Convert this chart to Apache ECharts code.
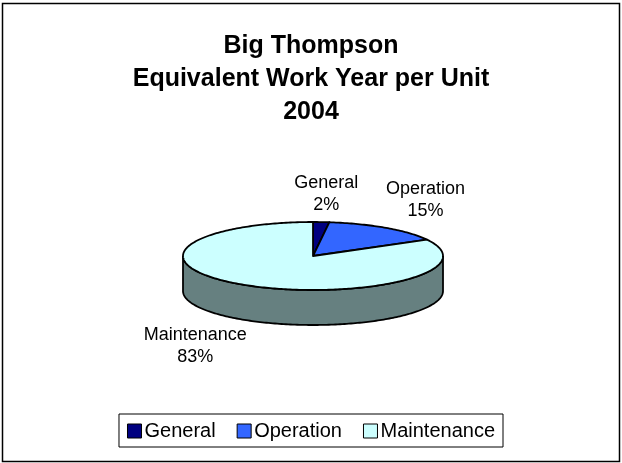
<!DOCTYPE html>
<html>
<head>
<meta charset="utf-8">
<script src="https://cdn.jsdelivr.net/npm/echarts@6/dist/echarts.min.js"></script>
<style>
    html, body { margin: 0; padding: 0; background: #fff; }
    #chart { width: 622px; height: 463px; }
</style>
</head>
<body>
<div id="chart"></div>
<script>
// data
var categories = ['General', 'Operation', 'Maintenance'];
var shares = [2, 15, 83];
var topColors = ['#000080', '#3366FF', '#CCFFFF'];
var sideColors = ['#000040', '#1A3380', '#668080'];

var LABEL_FONT = '18px "Liberation Sans", Arial, sans-serif';

var measureCtx = document.createElement('canvas').getContext('2d');
function textHalfWidth(lines){
    measureCtx.font = LABEL_FONT;
    var w = 0;
    lines.forEach(function(l){ w = Math.max(w, measureCtx.measureText(l).width); });
    return w / 2;
}

var total = shares.reduce(function(a, b){ return a + b; }, 0);

// pie "3d" geometry (layout only)
var cx = 313, cy = 256, rx = 130, ry = 34, depth = 35;

function rim(theta, dy){
    var r = theta * Math.PI / 180;
    return [cx + rx * Math.sin(r), cy - ry * Math.cos(r) + (dy || 0)];
}

function arcPoints(a0, a1, dy){
    var pts = [];
    var n = Math.max(2, Math.ceil(Math.abs(a1 - a0)));
    for (var k = 0; k <= n; k++) {
        pts.push(rim(a0 + (a1 - a0) * k / n, dy));
    }
    return pts;
}

function renderSlice(params, api){
    var i = params.dataIndex;
    var before = 0;
    for (var j = 0; j < i; j++) before += shares[j];
    var a0 = before / total * 360;
    var a1 = (before + api.value(0)) / total * 360;
    var children = [];

    // visible side wall (front half, 90..270 deg)
    var s0 = Math.max(a0, 90), s1 = Math.min(a1, 270);
    if (s1 > s0) {
        var pts = arcPoints(s0, s1, 0).concat(arcPoints(s1, s0, depth));
        children.push({
            type: 'polygon', z2: 0,
            shape: { points: pts },
            style: { fill: sideColors[i], stroke: '#000', lineWidth: 1.8 }
        });
    }

    // top face
    children.push({
        type: 'polygon', z2: 1,
        shape: { points: [[cx, cy]].concat(arcPoints(a0, a1, 0)) },
        style: { fill: topColors[i], stroke: '#000', lineWidth: 1.8, lineJoin: 'round' }
    });

    // data label
    var mid = (a0 + a1) / 2;
    var anchor = rim(mid, 0);
    var s = Math.sin(mid * Math.PI / 180), c = Math.cos(mid * Math.PI / 180);
    if (c < 0) anchor[1] += depth;
    var lines = [categories[i], shares[i] + '%'];
    var hw = textHalfWidth(lines);
    var lx = anchor[0];
    if (s > 0.3) lx += hw; else if (s < -0.3) lx -= hw;
    if (Math.abs(s) <= 0.3) lx += 5;
    children.push({
        type: 'text', z2: 2,
        style: {
            text: lines.join('\n'),
            x: lx,
            y: c >= 0 ? anchor[1] - 6 : anchor[1] + 4,
            align: 'center',
            verticalAlign: c >= 0 ? 'bottom' : 'top',
            font: LABEL_FONT,
            lineHeight: 22,
            fill: '#000'
        }
    });

    return { type: 'group', children: children };
}

var chart = echarts.init(document.getElementById('chart'));

chart.setOption({
    animation: false,
    title: {
        text: 'Big Thompson\nEquivalent Work Year per Unit\n2004',
        left: 'center',
        top: 25,
        textStyle: {
            fontFamily: '"Liberation Sans", Arial, sans-serif',
            fontSize: 25,
            fontWeight: 'bold',
            lineHeight: 33,
            color: '#000'
        }
    },
    legend: {
        data: categories,
        left: 'center',
        top: 414,
        orient: 'horizontal',
        padding: [7, 8, 6, 8],
        itemWidth: 14,
        itemHeight: 14,
        itemGap: 21,
        icon: 'rect',
        borderColor: '#000',
        borderWidth: 1,
        itemStyle: { borderColor: '#000', borderWidth: 1 },
        textStyle: {
            fontFamily: '"Liberation Sans", Arial, sans-serif',
            fontSize: 20,
            color: '#000',
            padding: [0, 0, 0, -2]
        },
        selectedMode: false
    },
    graphic: [{
        type: 'rect',
        silent: true,
        shape: { x: 2.5, y: 3.5, width: 617, height: 458 },
        style: { fill: 'none', stroke: '#000', lineWidth: 1.5 }
    }],
    series: [
        {
            // only feeds the legend
            type: 'pie',
            silent: true,
            radius: [0, 0],
            center: [-100, -100],
            label: { show: false },
            labelLine: { show: false },
            data: categories.map(function(name, i){
                return { name: name, value: shares[i], itemStyle: { color: topColors[i] } };
            })
        },
        {
            type: 'custom',
            coordinateSystem: 'none',
            silent: true,
            renderItem: renderSlice,
            data: shares
        }
    ]
});
</script>
</body>
</html>
